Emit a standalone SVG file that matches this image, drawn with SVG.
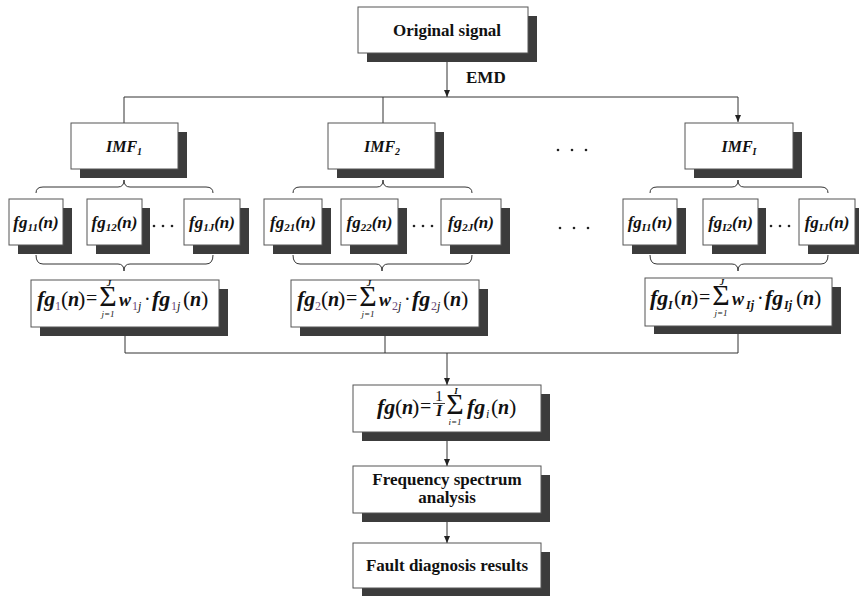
<svg xmlns="http://www.w3.org/2000/svg" width="859" height="596" viewBox="0 0 859 596">
<style>
.box{fill:#fff;stroke:#555;stroke-width:1}
.sh{fill:#3c3c3c}
.t{font-family:"Liberation Serif","Times New Roman",serif;font-weight:bold;font-size:17px;fill:#111}
.bi{font-family:"Liberation Serif","Times New Roman",serif;font-weight:bold;font-style:italic;fill:#111}
.rm{font-family:"Liberation Serif","Times New Roman",serif;fill:#111}
.it{font-family:"Liberation Serif","Times New Roman",serif;font-style:italic;fill:#111}
.pu{fill:#6d4c7d}
.ln{stroke:#333;stroke-width:1;fill:none}
.dot{fill:#222}
.fx{font-size:22px}
.fn{font-size:20px}
.par{font-size:22px}
.sg{font-size:30px}
.lim{font-size:9px}
.sb{font-size:12px}
</style>
<defs>
<marker id="ah" markerWidth="8" markerHeight="8" refX="7" refY="4" orient="auto" markerUnits="userSpaceOnUse">
<path d="M0,1 L7,4 L0,7 Z" fill="#222"/>
</marker>
</defs>

<g id="connectors">
<line class="ln" x1="447" y1="53" x2="447" y2="97" marker-end="url(#ah)"/>
<line class="ln" x1="124" y1="97" x2="738" y2="97"/>
<line class="ln" x1="124" y1="97" x2="124" y2="123"/>
<line class="ln" x1="383" y1="97" x2="383" y2="123"/>
<line class="ln" x1="738" y1="97" x2="738" y2="122" marker-end="url(#ah)"/>
<line class="ln" x1="125" y1="327" x2="125" y2="353"/>
<line class="ln" x1="385" y1="327" x2="385" y2="353"/>
<line class="ln" x1="738" y1="326" x2="738" y2="353"/>
<line class="ln" x1="125" y1="353" x2="738" y2="353"/>
<line class="ln" x1="447" y1="353" x2="447" y2="385" marker-end="url(#ah)"/>
<line class="ln" x1="447" y1="432" x2="447" y2="466" marker-end="url(#ah)"/>
<line class="ln" x1="447" y1="513" x2="447" y2="543" marker-end="url(#ah)"/>
<text class="t" x="466" y="83" font-size="15">EMD</text>
</g>

<g id="braces">
<path class="ln" d="M36,193 Q36,187 43,187 L118,187 Q124,187 124,180 Q124,187 130,187 L206,187 Q213,187 213,193"/>
<path class="ln" d="M293,193 Q293,187 300,187 L377,187 Q383,187 383,180 Q383,187 389,187 L465,187 Q472,187 472,193"/>
<path class="ln" d="M650,193 Q650,187 657,187 L732,187 Q738,187 738,180 Q738,187 744,187 L821,187 Q828,187 828,193"/>
<path class="ln" d="M36,255 Q36,264 43,264 L118,264 Q124,264 124,271 Q124,264 130,264 L206,264 Q213,264 213,255"/>
<path class="ln" d="M293,255 Q293,264 300,264 L376,264 Q382,264 382,271 Q382,264 388,264 L465,264 Q472,264 472,255"/>
<path class="ln" d="M650,255 Q650,264 657,264 L732,264 Q738,264 738,271 Q738,264 744,264 L821,264 Q828,264 828,255"/>
</g>

<g id="original">
<rect class="sh" x="367" y="16" width="170" height="46"/>
<rect class="box" x="358" y="7" width="170" height="46"/>
<text class="t" x="447" y="36" text-anchor="middle">Original signal</text>
</g>

<g id="imf1">
<rect class="sh" x="80" y="132" width="107" height="46"/>
<rect class="box" x="71" y="123" width="107" height="46"/>
<text class="bi" x="124" y="152" font-size="16" text-anchor="middle">IMF<tspan font-size="10" dy="3">1</tspan></text>
</g>
<g id="imf2">
<rect class="sh" x="337" y="132" width="107" height="46"/>
<rect class="box" x="328" y="123" width="107" height="46"/>
<text class="bi" x="382" y="152" font-size="16" text-anchor="middle">IMF<tspan font-size="10" dy="3">2</tspan></text>
</g>
<g id="imfI">
<rect class="sh" x="694" y="132" width="108" height="46"/>
<rect class="box" x="685" y="123" width="108" height="46"/>
<text class="bi" x="739" y="152" font-size="16" text-anchor="middle">IMF<tspan font-size="10" dy="3">I</tspan></text>
</g>

<g id="fg11"><rect class="sh" x="18" y="208" width="54" height="46"/><rect class="box" x="9" y="199" width="54" height="46"/>
<text class="bi" x="36" y="228" font-size="17" text-anchor="middle">fg<tspan font-size="11" dy="3">11</tspan><tspan dy="-3">(n)</tspan></text></g>
<g id="fg12"><rect class="sh" x="96" y="208" width="54" height="46"/><rect class="box" x="87" y="199" width="55" height="46"/>
<text class="bi" x="114.5" y="228" font-size="17" text-anchor="middle">fg<tspan font-size="11" dy="3">12</tspan><tspan dy="-3">(n)</tspan></text></g>
<g id="fg1J"><rect class="sh" x="193" y="208" width="56" height="46"/><rect class="box" x="184" y="199" width="56" height="46"/>
<text class="bi" x="212" y="228" font-size="17" text-anchor="middle">fg<tspan font-size="11" dy="3">1J</tspan><tspan dy="-3">(n)</tspan></text></g>

<g id="fg21"><rect class="sh" x="273" y="208" width="58" height="46"/><rect class="box" x="264" y="199" width="58" height="46"/>
<text class="bi" x="293" y="228" font-size="17" text-anchor="middle">fg<tspan font-size="11" dy="3">21</tspan><tspan dy="-3">(n)</tspan></text></g>
<g id="fg22"><rect class="sh" x="350" y="208" width="57" height="46"/><rect class="box" x="341" y="199" width="57" height="46"/>
<text class="bi" x="369.5" y="228" font-size="17" text-anchor="middle">fg<tspan font-size="11" dy="3">22</tspan><tspan dy="-3">(n)</tspan></text></g>
<g id="fg2J"><rect class="sh" x="450" y="208" width="60" height="46"/><rect class="box" x="441" y="199" width="60" height="46"/>
<text class="bi" x="471" y="228" font-size="17" text-anchor="middle">fg<tspan font-size="11" dy="3">2J</tspan><tspan dy="-3">(n)</tspan></text></g>

<g id="fgI1"><rect class="sh" x="632" y="208" width="54" height="46"/><rect class="box" x="623" y="199" width="54" height="46"/>
<text class="bi" x="650" y="228" font-size="17" text-anchor="middle">fg<tspan font-size="11" dy="3">I1</tspan><tspan dy="-3">(n)</tspan></text></g>
<g id="fgI2"><rect class="sh" x="712" y="208" width="54" height="46"/><rect class="box" x="703" y="199" width="55" height="46"/>
<text class="bi" x="730.5" y="228" font-size="17" text-anchor="middle">fg<tspan font-size="11" dy="3">I2</tspan><tspan dy="-3">(n)</tspan></text></g>
<g id="fgIJ"><rect class="sh" x="808" y="208" width="56" height="46"/><rect class="box" x="799" y="199" width="56" height="46"/>
<text class="bi" x="827" y="228" font-size="17" text-anchor="middle">fg<tspan font-size="11" dy="3">IJ</tspan><tspan dy="-3">(n)</tspan></text></g>

<g id="dots">
<circle class="dot" cx="154" cy="226" r="1.3"/><circle class="dot" cx="163" cy="226" r="1.3"/><circle class="dot" cx="172" cy="226" r="1.3"/>
<circle class="dot" cx="414" cy="226" r="1.3"/><circle class="dot" cx="423" cy="226" r="1.3"/><circle class="dot" cx="432" cy="226" r="1.3"/>
<circle class="dot" cx="771" cy="226" r="1.3"/><circle class="dot" cx="780" cy="226" r="1.3"/><circle class="dot" cx="789" cy="226" r="1.3"/>
<circle class="dot" cx="558" cy="150" r="1.3"/><circle class="dot" cx="572" cy="150" r="1.3"/><circle class="dot" cx="586" cy="150" r="1.3"/>
<circle class="dot" cx="560" cy="228" r="1.3"/><circle class="dot" cx="574" cy="228" r="1.3"/><circle class="dot" cx="588" cy="228" r="1.3"/>
</g>

<g id="sum1">
<rect class="sh" x="40" y="289" width="188" height="47"/>
<rect class="box" x="31" y="280" width="188" height="47"/>
<text class="bi fx" x="37" y="306">fg</text>
<text class="rm sb pu" x="55" y="310">1</text>
<text class="rm par" x="61" y="306">(</text>
<text class="bi fn" x="68" y="306">n</text>
<text class="rm par" x="78" y="306">)</text>
<text class="rm fn" x="86" y="305">=</text>
<text class="rm sg" x="108" y="306" text-anchor="middle">Σ</text>
<text class="bi lim" x="109" y="286" text-anchor="middle">J</text>
<text class="it lim" x="108" y="317" text-anchor="middle">j=1</text>
<text class="bi" x="119" y="306" font-size="18">w</text>
<text class="rm sb pu" x="132" y="310">1</text>
<text class="it sb" x="138" y="310">j</text>
<text class="rm fn" x="144" y="306">·</text>
<text class="bi fx" x="152" y="306">fg</text>
<text class="rm sb pu" x="171" y="310">1</text>
<text class="it sb" x="177" y="310">j</text>
<text class="rm par" x="183" y="306">(</text>
<text class="bi fn" x="190" y="306">n</text>
<text class="rm par" x="201" y="306">)</text>
</g>

<g id="sum2">
<rect class="sh" x="300" y="289" width="188" height="47"/>
<rect class="box" x="291" y="280" width="188" height="47"/>
<g transform="translate(260,0)">
<text class="bi fx" x="37" y="306">fg</text>
<text class="rm sb pu" x="55" y="310">2</text>
<text class="rm par" x="61" y="306">(</text>
<text class="bi fn" x="68" y="306">n</text>
<text class="rm par" x="78" y="306">)</text>
<text class="rm fn" x="86" y="305">=</text>
<text class="rm sg" x="108" y="306" text-anchor="middle">Σ</text>
<text class="bi lim" x="109" y="286" text-anchor="middle">J</text>
<text class="it lim" x="108" y="317" text-anchor="middle">j=1</text>
<text class="bi" x="119" y="306" font-size="18">w</text>
<text class="rm sb pu" x="132" y="310">2</text>
<text class="it sb" x="138" y="310">j</text>
<text class="rm fn" x="144" y="306">·</text>
<text class="bi fx" x="152" y="306">fg</text>
<text class="rm sb pu" x="171" y="310">2</text>
<text class="it sb" x="177" y="310">j</text>
<text class="rm par" x="183" y="306">(</text>
<text class="bi fn" x="190" y="306">n</text>
<text class="rm par" x="201" y="306">)</text>
</g>
</g>

<g id="sumI">
<rect class="sh" x="654" y="287" width="187" height="47"/>
<rect class="box" x="645" y="278" width="187" height="48"/>
<g transform="translate(613,-1)">
<text class="bi fx" x="37" y="306">fg</text>
<text class="bi sb" x="55" y="310">I</text>
<text class="rm par" x="61" y="306">(</text>
<text class="bi fn" x="68" y="306">n</text>
<text class="rm par" x="78" y="306">)</text>
<text class="rm fn" x="86" y="305">=</text>
<text class="rm sg" x="108" y="306" text-anchor="middle">Σ</text>
<text class="bi lim" x="109" y="286" text-anchor="middle">J</text>
<text class="it lim" x="108" y="317" text-anchor="middle">j=1</text>
<text class="bi" x="119" y="306" font-size="18">w</text>
<text class="bi sb" x="133" y="310">Ij</text>
<text class="rm fn" x="144" y="306">·</text>
<text class="bi fx" x="152" y="306">fg</text>
<text class="bi sb" x="171" y="310">Ij</text>
<text class="rm par" x="183" y="306">(</text>
<text class="bi fn" x="190" y="306">n</text>
<text class="rm par" x="201" y="306">)</text>
</g>
</g>

<g id="mean">
<rect class="sh" x="362" y="394" width="188" height="47"/>
<rect class="box" x="353" y="385" width="188" height="47"/>
<text class="bi fx" x="377" y="414">fg</text>
<text class="rm par" x="395" y="414">(</text>
<text class="bi fn" x="402" y="414">n</text>
<text class="rm par" x="412" y="414">)</text>
<text class="rm fn" x="420" y="413">=</text>
<text class="rm" x="439" y="401" font-size="15" text-anchor="middle">1</text>
<line x1="433" y1="403.5" x2="445" y2="403.5" stroke="#111" stroke-width="0.8"/>
<text class="bi" x="439" y="416" font-size="16" text-anchor="middle">I</text>
<text class="rm sg" x="455" y="414" text-anchor="middle">Σ</text>
<text class="bi lim" x="456" y="394" text-anchor="middle">I</text>
<text class="it lim" x="455" y="425" text-anchor="middle">i=1</text>
<text class="bi fx" x="467" y="414">fg</text>
<text class="it sb" x="486" y="418">i</text>
<text class="rm par" x="491" y="414">(</text>
<text class="bi fn" x="498" y="414">n</text>
<text class="rm par" x="509" y="414">)</text>
</g>

<g id="spectrum">
<rect class="sh" x="362" y="475" width="188" height="47"/>
<rect class="box" x="353" y="466" width="188" height="47"/>
<text class="t" x="447" y="485" text-anchor="middle">Frequency spectrum</text>
<text class="t" x="447" y="503" text-anchor="middle">analysis</text>
</g>

<g id="fault">
<rect class="sh" x="362" y="552" width="188" height="46"/>
<rect class="box" x="353" y="543" width="188" height="45"/>
<text class="t" x="447" y="571" text-anchor="middle">Fault diagnosis results</text>
</g>
</svg>
